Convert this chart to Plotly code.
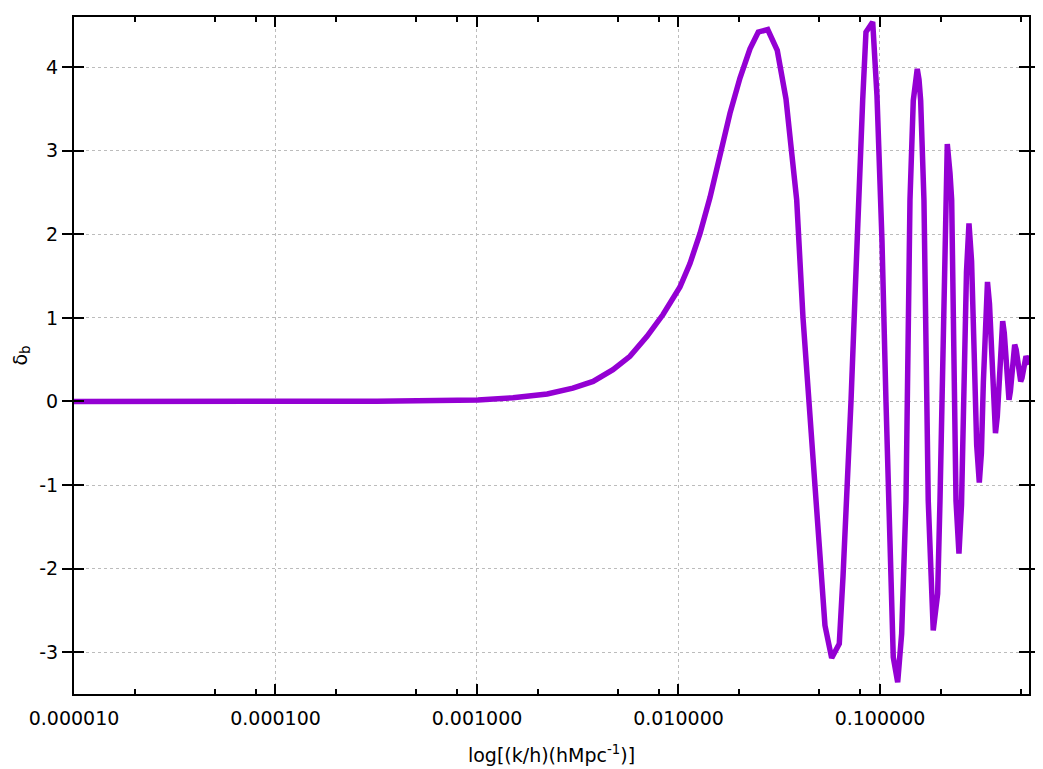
import math
import plotly.graph_objects as go

# k values (h/Mpc) and baryon density contrast
k_vals = [1.00e-5, 3.17e-5, 1.00e-4, 3.19e-4, 1.01e-3, 1.51e-3, 2.23e-3, 2.99e-3,
          3.77e-3, 4.73e-3, 5.74e-3, 6.98e-3, 8.38e-3, 1.017e-2, 1.14e-2, 1.279e-2,
          1.433e-2, 1.607e-2, 1.802e-2, 2.019e-2, 2.264e-2, 2.489e-2, 2.772e-2,
          3.092e-2, 3.416e-2, 3.637e-2, 3.861e-2, 4.149e-2, 4.444e-2, 4.756e-2,
          5.039e-2, 5.333e-2, 5.757e-2, 6.281e-2, 6.553e-2, 6.836e-2, 7.181e-2,
          7.515e-2, 7.804e-2, 8.205e-2, 8.521e-2, 9.201e-2, 9.663e-2, 0.1023,
          0.1071, 0.1121, 0.1164, 0.1224, 0.1281, 0.1346, 0.1409, 0.1463, 0.1500,
          0.1531, 0.1562, 0.1592, 0.1653, 0.1736, 0.1838, 0.1933, 0.1985, 0.2102,
          0.2158, 0.2226, 0.2269, 0.2384, 0.2424, 0.2466, 0.2538, 0.2611, 0.2687,
          0.2765, 0.2848, 0.2934, 0.3019, 0.3111, 0.3186, 0.3259, 0.3339, 0.3416,
          0.3495, 0.3576, 0.3659, 0.3743, 0.3821, 0.3900, 0.3981, 0.4064, 0.4139,
          0.4215, 0.4288, 0.4368, 0.4438, 0.4515, 0.4588, 0.4661, 0.4741, 0.4823,
          0.4907, 0.4992, 0.5066, 0.5148, 0.5225, 0.5305, 0.5395, 0.5521]
delta_b = [0.0, 0.0, 0.0002, 0.002, 0.018, 0.045, 0.09, 0.16,
           0.24, 0.38, 0.54, 0.78, 1.04, 1.37, 1.65, 2.01,
           2.44, 2.97, 3.45, 3.87, 4.22, 4.42, 4.45,
           4.20, 3.62, 3.0, 2.41, 1.0, 0.0, -1.19,
           -1.98, -2.68, -3.07, -2.90, -2.10, -1.19, 0.0,
           1.25, 2.41, 3.60, 4.42, 4.54, 3.66, 1.93,
           0.0, -1.88, -3.06, -3.36, -2.78, -1.19, 2.41, 3.60, 3.90,
           3.98, 3.85, 3.60, 2.41, -1.19, -2.74, -2.30, -1.19, 2.41,
           3.08, 2.73, 2.41, -1.19, -1.60, -1.82, -1.24, 0.16, 1.55,
           2.13, 1.68, 0.58, -0.52, -0.97, -0.62, 0.23, 1.08, 1.43,
           1.17, 0.53, -0.12, -0.38, -0.18, 0.29, 0.76, 0.96, 0.82,
           0.49, 0.16, 0.02, 0.12, 0.35, 0.58, 0.68, 0.62, 0.46,
           0.30, 0.24, 0.28, 0.39, 0.50, 0.54, 0.51, 0.44]

x_tick_vals = [1e-5, 1e-4, 1e-3, 1e-2, 1e-1]
x_tick_text = ["0.000010", "0.000100", "0.001000", "0.010000", "0.100000"]
x_minor_mult = [2, 5, 8]
x_minor_vals = [m * d for d in x_tick_vals for m in x_minor_mult]
y_tick_vals = [-3, -2, -1, 0, 1, 2, 3, 4]
y_tick_text = ["-3", "-2", "-1", "0", "1", "2", "3", "4"]

x_title = "log[(k/h)(hMpc<sup>-1</sup>)]"
y_title = "δ<sub>b</sub>"

x_range = [1e-5, 0.549]
y_range = [-3.5, 4.6]
x_log_range = [math.log10(x_range[0]), math.log10(x_range[1])]

fig = go.Figure()
fig.add_trace(go.Scatter(x=k_vals, y=delta_b, mode="lines",
                         line=dict(color="#9400D3", width=5.5),
                         showlegend=False, hoverinfo="skip"))
# empty trace so that the minor-tick axis is drawn
fig.add_trace(go.Scatter(x=[], y=[], xaxis="x2", yaxis="y",
                         showlegend=False, hoverinfo="skip"))

font = dict(family="DejaVu Sans", size=19, color="black")
grid_color = "#bcbcbc"
fig.update_layout(
    width=1035, height=761,
    margin=dict(l=66, r=14, t=9, b=75),
    paper_bgcolor="white", plot_bgcolor="white",
    font=font,
    xaxis=dict(
        type="log", range=x_log_range,
        tickmode="array", tickvals=x_tick_vals, ticktext=x_tick_text,
        ticks="inside", ticklen=10, tickwidth=1.5, tickcolor="black",
        showline=True, linecolor="black", linewidth=2, mirror="allticks",
        showgrid=True, gridcolor=grid_color, griddash="dot", gridwidth=1,
        zeroline=False, ticklabelstandoff=6,
        title=dict(text=x_title, font=font, standoff=21),
        automargin=False,
    ),
    xaxis2=dict(
        type="log", range=x_log_range, overlaying="x", anchor="y", side="bottom",
        tickmode="array", tickvals=x_minor_vals, showticklabels=False,
        ticks="inside", ticklen=5, tickwidth=1.5, tickcolor="black",
        showline=False, mirror="allticks", showgrid=False, zeroline=False,
        automargin=False,
    ),
    yaxis=dict(
        range=y_range,
        tickmode="array", tickvals=y_tick_vals, ticktext=y_tick_text,
        ticks="inside", ticklen=10, tickwidth=1.5, tickcolor="black",
        showline=True, linecolor="black", linewidth=2, mirror="allticks",
        showgrid=True, gridcolor=grid_color, griddash="dot", gridwidth=1,
        zeroline=False, ticklabelstandoff=10,
        automargin=False,
    ),
    annotations=[dict(text=y_title, xref="paper", yref="paper", x=0, y=0.5,
                      xanchor="center", yanchor="middle", xshift=-53,
                      textangle=-90, showarrow=False, font=font)],
)

fig.write_html("out.html")
